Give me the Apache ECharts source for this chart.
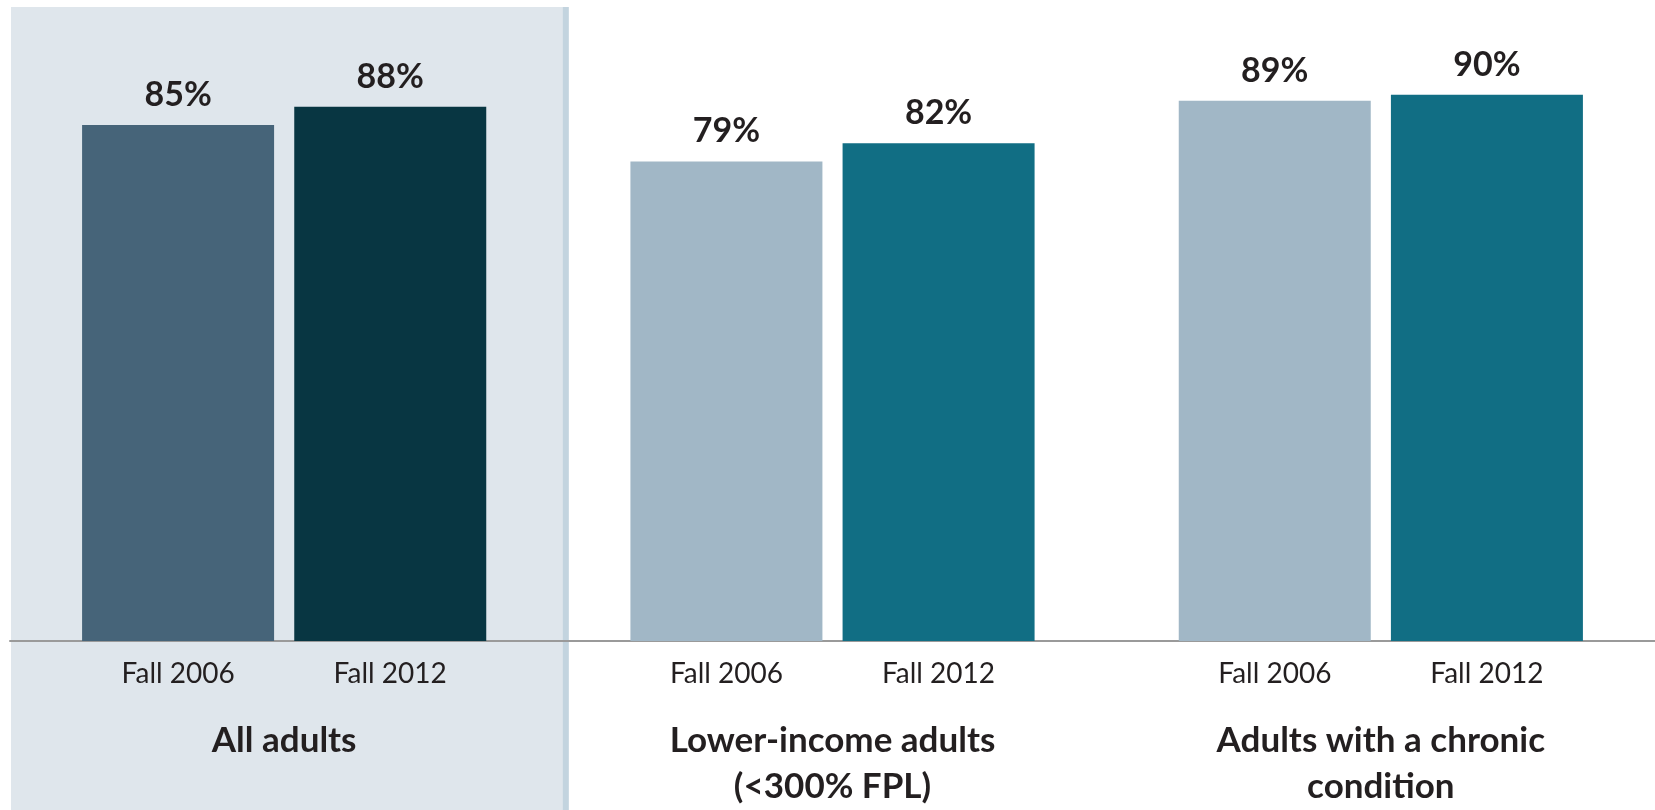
<!DOCTYPE html>
<html>
<head>
<meta charset="utf-8">
<script src="https://cdn.jsdelivr.net/npm/echarts@6/dist/echarts.min.js"></script>
<style>
  html, body { margin: 0; padding: 0; background: #ffffff; }
  #chart { width: 1655px; height: 810px; }
</style>
</head>
<body>
<div id="chart"></div>
<script>
// Share of adults, by group and survey wave
const categories = ['All adults', 'Lower-income adults\n(<300% FPL)', 'Adults with a chronic\ncondition'];
const waveNames = ['Fall 2006', 'Fall 2012'];
const fall2006 = [85, 79, 89];
const fall2012 = [88, 82, 90];

// Bar colours per group (first group is highlighted with darker tones)
const colors2006 = ['#466479', '#A1B7C6', '#A1B7C6'];
const colors2012 = ['#083642', '#116E84', '#116E84'];

const FONT = 'Lato, "Noto Sans", sans-serif';
const TEXT = '#231F20';

const chart = echarts.init(document.getElementById('chart'));

function makeSeries(name, values, colors) {
  return {
    name: name,
    type: 'bar',
    barWidth: 192,
    barGap: '10.5%',
    data: values.map((v, i) => ({ value: v, itemStyle: { color: colors[i] } })),
    label: {
      show: true,
      position: 'top',
      distance: 13,
      formatter: p => p.value + '%',
      fontFamily: FONT,
      fontWeight: 'bold',
      fontSize: 34,
      color: TEXT
    },
    emphasis: { disabled: true }
  };
}

const yearStyle = {
  width: 212,
  align: 'center',
  fontFamily: FONT,
  fontSize: 28,
  lineHeight: 30,
  color: TEXT
};

chart.setOption({
  animation: false,
  grid: { left: 10, right: 0, top: 34, bottom: 169, containLabel: false },
  xAxis: [
    {
      type: 'category',
      data: categories,
      axisLine: { show: true, lineStyle: { color: '#9A9A9A', width: 2 } },
      axisTick: { show: false },
      axisLabel: {
        interval: 0,
        margin: 18,
        formatter: () => `{a|${waveNames[0]}}{b|${waveNames[1]}}`,
        rich: { a: yearStyle, b: yearStyle }
      }
    },
    {
      type: 'category',
      data: categories,
      position: 'bottom',
      axisLine: { show: false },
      axisTick: { show: false },
      axisLabel: {
        interval: 0,
        margin: 77,
        fontFamily: FONT,
        fontWeight: 'bold',
        fontSize: 35,
        lineHeight: 46,
        color: TEXT
      }
    }
  ],
  yAxis: { type: 'value', min: 0, max: 100, show: false },
  series: [
    makeSeries(waveNames[0], fall2006, colors2006),
    makeSeries(waveNames[1], fall2012, colors2012)
  ]
});

// Shaded panel behind the first group, sized from the category band
const c0 = chart.convertToPixel({ xAxisIndex: 0 }, categories[0]);
const c1 = chart.convertToPixel({ xAxisIndex: 0 }, categories[1]);
const half = (c1 - c0) / 2;
const bandLeft = c0 - half;
const bandRight = c0 + half;
chart.setOption({
  graphic: [
    {
      type: 'rect', z: -10, silent: true,
      shape: { x: bandLeft + 1, y: 7, width: bandRight - bandLeft + 4, height: 810 },
      style: { fill: '#DFE6EC' }
    },
    {
      type: 'rect', z: -10, silent: true,
      shape: { x: bandRight + 4.5, y: 7, width: 6, height: 810 },
      style: { fill: '#C3D4DF' }
    }
  ]
});
</script>
</body>
</html>
